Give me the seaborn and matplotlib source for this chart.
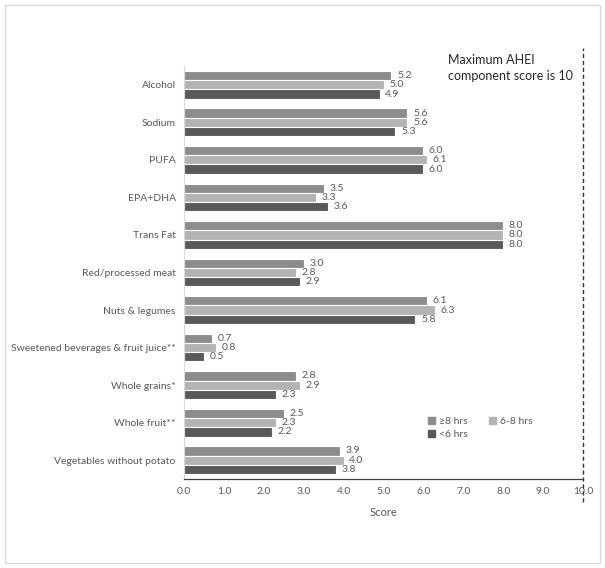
import matplotlib
matplotlib.use("Agg")
import matplotlib.pyplot as plt
from matplotlib.patches import Rectangle, Patch
import seaborn as sns
import pandas as pd
import numpy as np

components = ["Alcohol", "Sodium", "PUFA", "EPA+DHA", "Trans Fat",
              "Red/processed meat", "Nuts & legumes",
              "Sweetened beverages & fruit juice**", "Whole grains*",
              "Whole fruit**", "Vegetables without potato"]
groups = ["\u22658 hrs", "6-8 hrs", "<6 hrs"]
ge8 = [5.2, 5.6, 6.0, 3.5, 8.0, 3.0, 6.1, 0.7, 2.8, 2.5, 3.9]
h68 = [5.0, 5.6, 6.1, 3.3, 8.0, 2.8, 6.3, 0.8, 2.9, 2.3, 4.0]
lt6 = [4.9, 5.3, 6.0, 3.6, 8.0, 2.9, 5.8, 0.5, 2.3, 2.2, 3.8]
xticks = [0, 1, 2, 3, 4, 5, 6, 7, 8, 9, 10]
colors = ["#8c8c8c", "#b3b3b3", "#595959"]

rows = []
for g, vals in zip(groups, [ge8, h68, lt6]):
    for c, v in zip(components, vals):
        rows.append({"component": c, "group": g, "score": v})
df = pd.DataFrame(rows)

sns.set_style("white")
plt.rcParams["font.family"] = ["Lato", "DejaVu Sans"]

fig = plt.figure(figsize=(6.05, 5.68), dpi=100)
ax = fig.add_axes([184/605, 89/568, 399/605, 413/568])

sns.barplot(data=df, x="score", y="component", hue="group", orient="h",
            order=components, hue_order=groups, palette=colors,
            width=0.74, saturation=1, edgecolor="white", linewidth=0.8,
            legend=False, ax=ax)

txt = "#595959"
for cont in ax.containers:
    ax.bar_label(cont, fmt="%.1f", padding=4, fontsize=7.5, color=txt)

ax.set_xlim(0, 10)
ax.set_xticks(xticks)
ax.set_xticklabels([f"{t:.1f}" for t in xticks], fontsize=7.5, color=txt)
ax.set_xlabel("Score", fontsize=8, color=txt, labelpad=8)
ax.set_ylabel("")
ax.tick_params(axis="y", length=0, labelsize=7.5, labelcolor=txt, pad=6)
ax.set_yticks(np.arange(-0.5, len(components), 1), minor=True)
ax.tick_params(axis="y", which="minor", length=4, color="#d9d9d9", direction="out")
ax.tick_params(axis="x", length=3, direction="in", color="#404040", pad=6)

for s in ["top", "right"]:
    ax.spines[s].set_visible(False)
ax.spines["left"].set_color("#d9d9d9")
ax.spines["bottom"].set_color("#404040")
ax.spines["bottom"].set_linewidth(0.9)

ax.axvline(10, ymin=-0.056, ymax=1.044, clip_on=False, color="#333333",
           linestyle=(0, (3, 2)), linewidth=1)

handles = [Patch(color=colors[0], label=groups[0]),
           Patch(color=colors[2], label=groups[2]),
           Patch(color=colors[1], label=groups[1])]
ax.legend(handles=handles, ncol=2, loc="upper left", bbox_to_anchor=(0.6, 0.16),
          frameon=False, handlelength=0.7, handleheight=0.7, handletextpad=0.4,
          columnspacing=2.0, labelspacing=0.3, fontsize=7.5, labelcolor=txt,
          borderaxespad=0)

fig.text(448/605, 1 - 54/568, "Maximum AHEI\ncomponent score is 10",
         fontsize=9, color="#262626", va="top", ha="left", linespacing=1.4)

fig.add_artist(Rectangle((5/605, 5/568), 595/605, 558/568, transform=fig.transFigure,
                         fill=False, edgecolor="#d9d9d9", linewidth=1))

fig.savefig("out.png", dpi=100)
